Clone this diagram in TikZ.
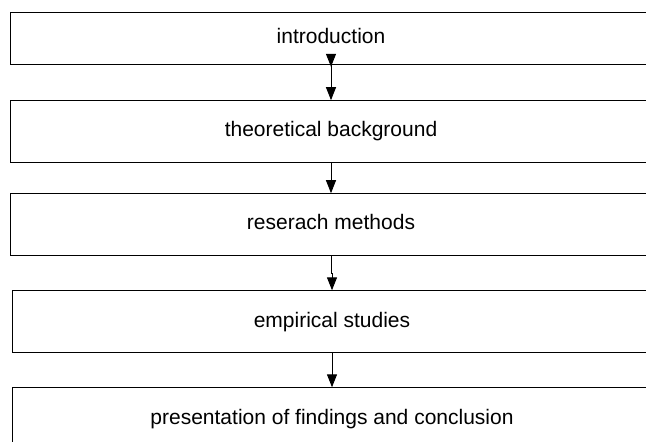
\documentclass[tikz,border=0pt]{standalone}
\usepackage{fontspec}
\setmainfont{Liberation Sans}
\usepackage{tikz}
\usetikzlibrary{arrows.meta}
\usetikzlibrary{decorations.markings}

\begin{document}
\begin{tikzpicture}[x=1pt, y=1pt, line width=1pt, inner sep=0pt]
            \useasboundingbox (0,0) rectangle (646,442);

            \tikzstyle{myBox}=[draw, minimum width=642pt, minimum height=61.6pt, text height=15pt, text depth=4pt, font=\fontsize{21}{25}\selectfont];
            \tikzstyle{myArr}=[-{Triangle[length=13pt, width=10pt]}];
            \node[myBox, minimum height=52pt] (intro) at (331,403.7) {introduction};
            \node[myBox] (theory) at (331,310.5) {theoretical background};
            \node[myBox] (methods) at (331,217.5) {reserach methods};
            \node[myBox, minimum width=640pt] (empirical) at (332,120.4) {empirical studies};
            \node[myBox, minimum width=640pt] (findings) at (332,23.4) {presentation of findings and conclusion};

            \draw[myArr, postaction={decorate}, decoration={markings, mark=at position 2pt with {\arrow{Triangle[length=13pt, width=10pt]}}}] (intro.south) -- (theory.north);
            \draw[myArr] (theory.south) -- (methods.north);
            \draw[myArr] (methods.south) -- ++(0,-18) -| (empirical.north);
            \draw[myArr] (empirical.south) -- (findings.north);
         \end{tikzpicture}
\end{document}
